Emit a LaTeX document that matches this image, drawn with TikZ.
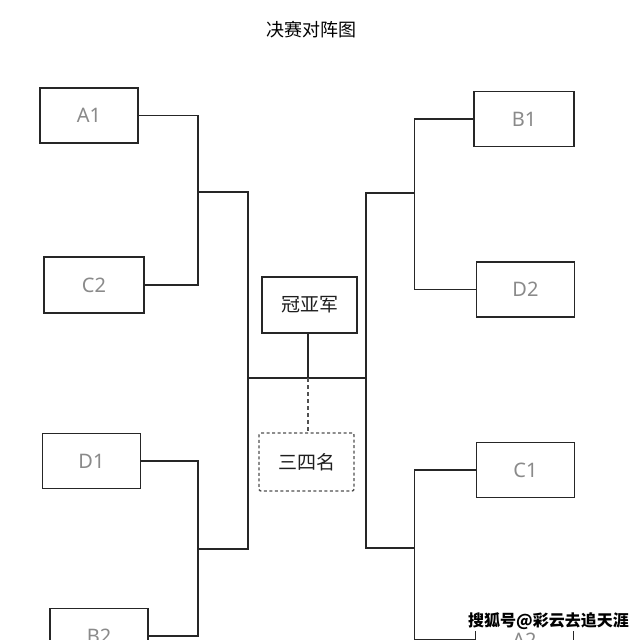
\documentclass[tikz,border=0pt]{standalone}
\usepackage{fontspec}
\setmainfont{Noto Sans CJK SC}
\newfontfamily\cjk{Noto Sans CJK SC}
\newfontfamily\latinlab{Noto Sans}
\definecolor{linec}{HTML}{262626}
\definecolor{labc}{HTML}{8A8A8A}
\definecolor{txtc}{HTML}{1E1E1E}
\tikzset{
  teambox/.style={draw=linec, line width=1.9pt, minimum width=98pt, minimum height=55pt, inner sep=0pt, text=labc, font=\latinlab\fontsize{20}{20}\selectfont},
  rankbox/.style={draw=linec, line width=1.9pt, minimum width=95pt, minimum height=56pt, inner sep=0pt, text=txtc, font=\cjk\fontsize{19}{19}\selectfont},
  dashbox/.style={rankbox, dashed, dash pattern=on 3pt off 2.5pt, line width=1.4pt, rounded corners=2pt, draw=linec!80},
  link/.style={draw=linec, line width=1.9pt},
  dlink/.style={draw=linec!80, line width=1.6pt, dash pattern=on 4pt off 3pt},
}
\begin{document}
\begin{tikzpicture}[x=1pt,y=-1pt]
\useasboundingbox (0,0) rectangle (640,640);
\clip (0,0) rectangle (640,640);
\fill[white] (0,0) rectangle (640,640);
% title
\node[font=\cjk\fontsize{18}{18}\selectfont, text=black] (title) at (311,30) {决赛对阵图};
% team boxes
\node[teambox] (A1) at (89,115.5) {A1};
\node[teambox, minimum width=100pt, minimum height=56pt] (C2) at (94,285) {C2};
\node[teambox] (D1) at (91.5,461) {D1};
\node[teambox] (B2) at (99,636) {B2};
\node[teambox, minimum width=100pt] (B1) at (524,119) {B1};
\node[teambox] (D2) at (525.5,289.5) {D2};
\node[teambox] (C1) at (525.5,470) {C1};
\node[teambox] (A2) at (524.5,640) {A2};
% rank boxes
\node[rankbox] (F) at (309.5,305) {冠亚军};
\node[dashbox, minimum height=58pt] (T) at (306.5,462) {三四名};
% anchor coordinates
\coordinate (lx) at (198,0);
\coordinate (rx) at (414.5,0);
\coordinate (ltop) at (198,192);
\coordinate (lbot) at (198,549);
\coordinate (mtopL) at (248,192);
\coordinate (mbotL) at (248,549);
\coordinate (mid) at (248,378);
\coordinate (midR) at (366,378);
\coordinate (mtopR) at (366,193);
\coordinate (mbotR) at (366,548);
\coordinate (rtop) at (414.5,193);
\coordinate (rbot) at (414.5,548);
\coordinate (fx) at (308,378);
% left brackets
\draw[link] (A1.east) -- (A1.east -| lx) -- (C2.east -| lx) -- (C2.east);
\draw[link] (D1.east) -- (D1.east -| lx) -- (B2.east -| lx) -- (B2.east);
\draw[link] (ltop) -- (mtopL) -- (mbotL) -- (lbot);
% right brackets
\draw[link] (B1.west) -- (B1.west -| rx) -- (D2.west -| rx) -- (D2.west);
\draw[link] (C1.west) -- (C1.west -| rx) -- (A2.west -| rx) -- (A2.west);
\draw[link] (rtop) -- (mtopR) -- (mbotR) -- (rbot);
% middle
\draw[link] (mid) -- (midR);
\draw[link] (F.south -| fx) -- (fx);
\draw[dlink] (fx) -- (T.north -| fx);
% watermark
\node[fill=white, inner sep=1pt, font=\cjk\bfseries\fontsize{16}{16}\selectfont, text=black] (wm) at (548.5,621) {搜狐号@彩云去追天涯};
\end{tikzpicture}
\end{document}
